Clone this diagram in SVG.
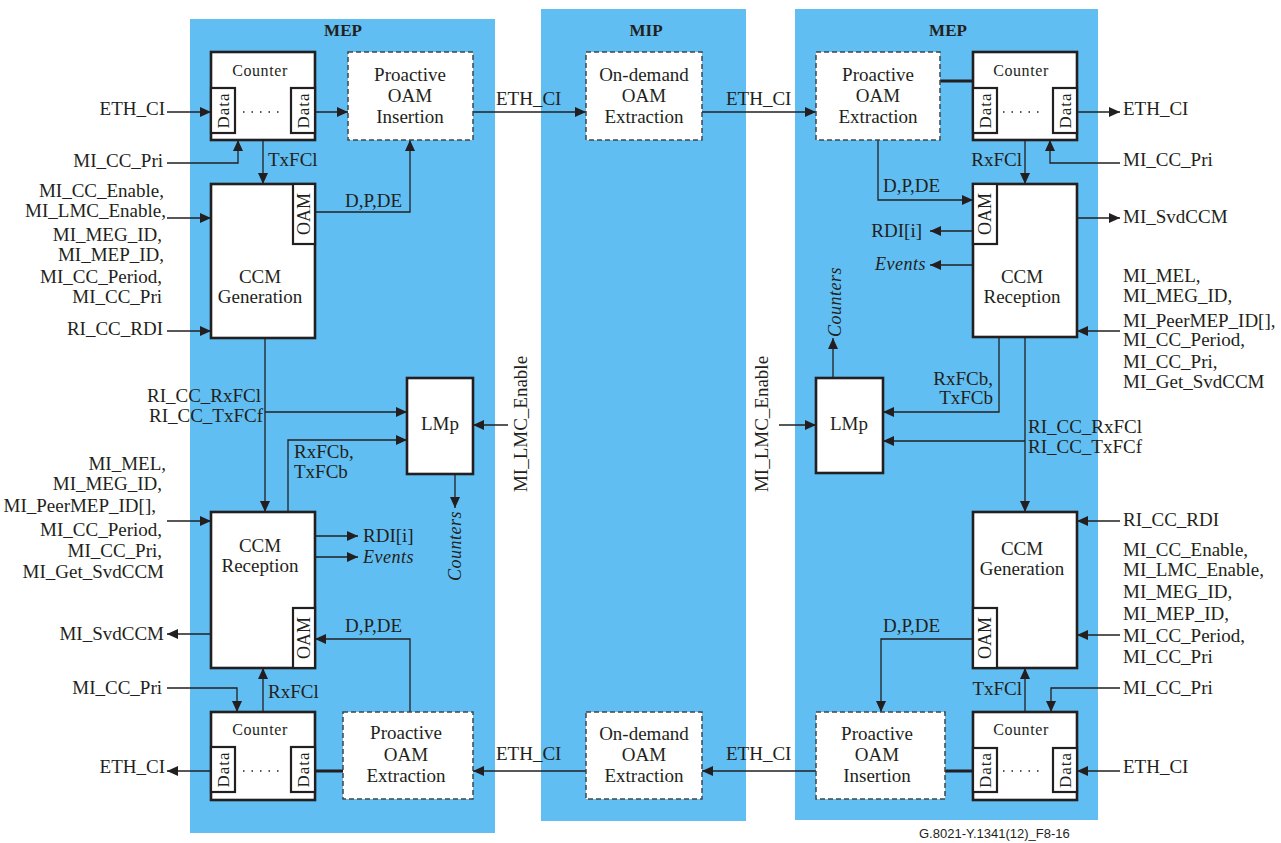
<svg xmlns="http://www.w3.org/2000/svg" width="1281" height="843" viewBox="0 0 1281 843">
<style>
text{font-family:"Liberation Serif","Times New Roman",serif;font-size:19px;fill:#231f20}
.t{font-weight:bold;font-size:17px}
.c{text-anchor:middle}
.e{text-anchor:end}
.it{font-style:italic;letter-spacing:0.5px;font-size:18px}
.cnt{font-size:16px;letter-spacing:0.6px}
.dt{font-size:17px;letter-spacing:1px}
.oam{font-size:18px}
.ft{font-family:"Liberation Sans",Arial,sans-serif;font-size:13px}
.panel{fill:#60bef2}
.box{fill:#fff;stroke:#231f20;stroke-width:2.6}
.sub{fill:#fff;stroke:#231f20;stroke-width:2.2}
.dash{fill:#fff;stroke:#444;stroke-width:1.5;stroke-dasharray:5,3}
.ar{fill:none;stroke:#231f20;stroke-width:1.3;marker-end:url(#a)}
.thk{fill:none;stroke:#231f20;stroke-width:3}
.dots{stroke:#231f20;stroke-width:1.5;stroke-dasharray:1.5,7}
</style>
<defs>
<marker id="a" markerUnits="userSpaceOnUse" markerWidth="12" markerHeight="10" refX="11" refY="5" orient="auto">
<path d="M0,0 L11,5 L0,10 z" fill="#231f20"/>
</marker>
</defs>
<rect width="1281" height="843" fill="#fff"/>
<g id="panels">
<rect class="panel" x="190" y="19" width="305" height="814"/>
<rect class="panel" x="541" y="9" width="205" height="812"/>
<rect class="panel" x="795" y="9" width="303" height="811"/>
<text class="t c" x="343" y="36">MEP</text>
<text class="t c" x="646" y="36">MIP</text>
<text class="t c" x="948" y="36">MEP</text>
</g>

<g id="connectors">
<path class="ar" d="M167,112 H211"/>
<path class="ar" d="M315,112 H348"/>
<path class="ar" d="M167,163 H238 V140"/>
<path class="ar" d="M263,140 V184"/>
<path class="ar" d="M167,218 H211"/>
<path class="ar" d="M315,212 H410 V140"/>
<path class="ar" d="M167,331 H211"/>
<path class="ar" d="M265,338 V512"/>
<path class="ar" d="M265,412 H407"/>
<path class="ar" d="M288,512 V440 H407"/>
<path class="ar" d="M455,474 V508"/>
<path class="ar" d="M508,425 H473"/>
<path class="ar" d="M167,521 H211"/>
<path class="ar" d="M315,536 H358"/>
<path class="ar" d="M315,557 H358"/>
<path class="ar" d="M213,634 H167"/>
<path class="ar" d="M410,712 V639 H315"/>
<path class="ar" d="M167,688 H237 V712"/>
<path class="ar" d="M263,712 V668"/>
<path class="ar" d="M211,771 H167"/>
<path class="thk" d="M315,771 H343"/>
<path class="ar" d="M586,771 H473"/>
<path class="ar" d="M473,112 H586"/>
<path class="ar" d="M702,112 H816"/>
<path class="ar" d="M816,771 H702"/>
<path class="thk" d="M940,81 H973"/>
<path class="ar" d="M1077,112 H1120"/>
<path class="ar" d="M1120,163 H1050 V140"/>
<path class="ar" d="M1025,140 V184"/>
<path class="ar" d="M878,140 V200 H973"/>
<path class="ar" d="M973,231 H930"/>
<path class="ar" d="M973,265 H930"/>
<path class="ar" d="M1077,218 H1120"/>
<path class="ar" d="M1120,331 H1077"/>
<path class="ar" d="M999,337 V412 H883"/>
<path class="ar" d="M1025,337 V512"/>
<path class="ar" d="M1025,441 H883"/>
<path class="ar" d="M833,378 V338"/>
<path class="ar" d="M779,425 H816"/>
<path class="ar" d="M1120,521 H1077"/>
<path class="ar" d="M1120,635 H1077"/>
<path class="ar" d="M973,639 H881 V712"/>
<path class="ar" d="M1025,712 V668"/>
<path class="ar" d="M1120,688 H1051 V712"/>
<path class="ar" d="M1120,771 H1077"/>
<path class="thk" d="M973,771 H945"/>
</g>

<g id="labels">
<text class="e" x="165" y="115">ETH_CI</text>
<text class="e" x="163" y="167">MI_CC_Pri</text>
<text x="268" y="166">TxFCl</text>
<text class="e" x="164" y="197">MI_CC_Enable,</text>
<text class="e" x="166" y="217">MI_LMC_Enable,</text>
<text class="e" x="162" y="241">MI_MEG_ID,</text>
<text class="e" x="164" y="261">MI_MEP_ID,</text>
<text class="e" x="162" y="283">MI_CC_Period,</text>
<text class="e" x="162" y="303">MI_CC_Pri</text>
<text class="e" x="163" y="335">RI_CC_RDI</text>
<text x="345" y="207">D,P,DE</text>
<text class="e" x="261" y="402">RI_CC_RxFCl</text>
<text class="e" x="263" y="422">RI_CC_TxFCf</text>
<text x="294" y="458">RxFCb,</text>
<text x="294" y="478">TxFCb</text>
<text class="c" transform="translate(527,424) rotate(-90)">MI_LMC_Enable</text>
<text class="c it" transform="translate(461,546) rotate(-90)">Counters</text>
<text class="e" x="166" y="470">MI_MEL,</text>
<text class="e" x="162" y="490">MI_MEG_ID,</text>
<text class="e" x="156" y="512">MI_PeerMEP_ID[],</text>
<text class="e" x="162" y="536">MI_CC_Period,</text>
<text class="e" x="162" y="557">MI_CC_Pri,</text>
<text class="e" x="164" y="578">MI_Get_SvdCCM</text>
<text x="363" y="542">RDI[i]</text>
<text class="it" x="363" y="563">Events</text>
<text class="e" x="164" y="640">MI_SvdCCM</text>
<text x="345" y="632">D,P,DE</text>
<text class="e" x="162" y="694">MI_CC_Pri</text>
<text x="268" y="698">RxFCl</text>
<text class="e" x="165" y="773">ETH_CI</text>
<text x="496" y="105">ETH_CI</text>
<text x="726" y="105">ETH_CI</text>
<text x="496" y="760">ETH_CI</text>
<text x="726" y="760">ETH_CI</text>
<text x="1123" y="115">ETH_CI</text>
<text x="1123" y="166">MI_CC_Pri</text>
<text class="e" x="1022" y="166">RxFCl</text>
<text x="883" y="192">D,P,DE</text>
<text class="e" x="922" y="237">RDI[i]</text>
<text class="e it" x="926" y="270">Events</text>
<text x="1123" y="223">MI_SvdCCM</text>
<text x="1123" y="282">MI_MEL,</text>
<text x="1123" y="302">MI_MEG_ID,</text>
<text x="1123" y="327">MI_PeerMEP_ID[],</text>
<text x="1123" y="346">MI_CC_Period,</text>
<text x="1123" y="368">MI_CC_Pri,</text>
<text x="1123" y="388">MI_Get_SvdCCM</text>
<text class="e" x="993" y="385">RxFCb,</text>
<text class="e" x="993" y="404">TxFCb</text>
<text x="1028" y="433">RI_CC_RxFCl</text>
<text x="1028" y="453">RI_CC_TxFCf</text>
<text class="c it" transform="translate(841,302) rotate(-90)">Counters</text>
<text class="c" transform="translate(768,424) rotate(-90)">MI_LMC_Enable</text>
<text x="1123" y="526">RI_CC_RDI</text>
<text x="1123" y="556">MI_CC_Enable,</text>
<text x="1123" y="576">MI_LMC_Enable,</text>
<text x="1123" y="598">MI_MEG_ID,</text>
<text x="1123" y="620">MI_MEP_ID,</text>
<text x="1123" y="642">MI_CC_Period,</text>
<text x="1123" y="663">MI_CC_Pri</text>
<text x="883" y="632">D,P,DE</text>
<text class="e" x="1022" y="695">TxFCl</text>
<text x="1123" y="694">MI_CC_Pri</text>
<text x="1123" y="773">ETH_CI</text>
<text class="ft" x="919" y="838">G.8021-Y.1341(12)_F8-16</text>
</g>

<g id="l-counter-tx">
<rect class="box" x="211" y="52" width="104" height="88"/>
<text class="c cnt" x="260" y="76">Counter</text>
<rect class="sub" x="211" y="88" width="24" height="45"/>
<text class="c dt" transform="translate(229,110.5) rotate(-90)">Data</text>
<rect class="sub" x="291" y="88" width="24" height="45"/>
<text class="c dt" transform="translate(309,110.5) rotate(-90)">Data</text>
<line class="dots" x1="243" y1="112" x2="282" y2="112"/>
</g>
<g id="l-pro-insert">
<rect class="dash" x="348" y="52" width="125" height="88"/>
<text class="c" x="410" y="81">Proactive</text>
<text class="c" x="410" y="102">OAM</text>
<text class="c" x="410" y="123">Insertion</text>
</g>
<g id="l-ccm-gen">
<rect class="box" x="211" y="184" width="104" height="154"/>
<rect class="sub" x="293" y="184" width="22" height="60"/>
<text class="c oam" transform="translate(310,214) rotate(-90)">OAM</text>
<text class="c" x="260" y="283">CCM</text>
<text class="c" x="260" y="303">Generation</text>
</g>
<g id="l-lmp">
<rect class="box" x="407" y="378" width="66" height="96"/>
<text class="c" x="440" y="430">LMp</text>
</g>
<g id="l-ccm-rec">
<rect class="box" x="211" y="512" width="104" height="156"/>
<rect class="sub" x="293" y="608" width="22" height="60"/>
<text class="c oam" transform="translate(310,638) rotate(-90)">OAM</text>
<text class="c" x="260" y="552">CCM</text>
<text class="c" x="260" y="572">Reception</text>
</g>
<g id="l-counter-rx">
<rect class="box" x="211" y="712" width="104" height="88"/>
<text class="c cnt" x="260" y="735">Counter</text>
<rect class="sub" x="211" y="747" width="24" height="45"/>
<text class="c dt" transform="translate(229,769.5) rotate(-90)">Data</text>
<rect class="sub" x="291" y="747" width="24" height="45"/>
<text class="c dt" transform="translate(309,769.5) rotate(-90)">Data</text>
<line class="dots" x1="243" y1="771" x2="282" y2="771"/>
</g>
<g id="l-pro-extract">
<rect class="dash" x="343" y="712" width="130" height="87"/>
<text class="c" x="406" y="739">Proactive</text>
<text class="c" x="406" y="761">OAM</text>
<text class="c" x="406" y="782">Extraction</text>
</g>

<g id="mip-od-top">
<rect class="dash" x="586" y="52" width="116" height="88"/>
<text class="c" x="644" y="81">On-demand</text>
<text class="c" x="644" y="102">OAM</text>
<text class="c" x="644" y="123">Extraction</text>
</g>
<g id="mip-od-bottom">
<rect class="dash" x="586" y="712" width="116" height="87"/>
<text class="c" x="644" y="740">On-demand</text>
<text class="c" x="644" y="761">OAM</text>
<text class="c" x="644" y="782">Extraction</text>
</g>

<g id="r-pro-extract">
<rect class="dash" x="816" y="52" width="124" height="88"/>
<text class="c" x="878" y="81">Proactive</text>
<text class="c" x="878" y="102">OAM</text>
<text class="c" x="878" y="123">Extraction</text>
</g>
<g id="r-counter-rx">
<rect class="box" x="973" y="52" width="104" height="88"/>
<text class="c cnt" x="1021" y="76">Counter</text>
<rect class="sub" x="973" y="88" width="24" height="45"/>
<text class="c dt" transform="translate(991,110.5) rotate(-90)">Data</text>
<rect class="sub" x="1053" y="88" width="24" height="45"/>
<text class="c dt" transform="translate(1071,110.5) rotate(-90)">Data</text>
<line class="dots" x1="1003" y1="112" x2="1042" y2="112"/>
</g>
<g id="r-ccm-rec">
<rect class="box" x="973" y="184" width="104" height="153"/>
<rect class="sub" x="973" y="184" width="24" height="60"/>
<text class="c oam" transform="translate(991,214) rotate(-90)">OAM</text>
<text class="c" x="1022" y="283">CCM</text>
<text class="c" x="1022" y="303">Reception</text>
</g>
<g id="r-lmp">
<rect class="box" x="816" y="378" width="67" height="95"/>
<text class="c" x="849" y="430">LMp</text>
</g>
<g id="r-ccm-gen">
<rect class="box" x="973" y="512" width="104" height="156"/>
<rect class="sub" x="973" y="608" width="24" height="60"/>
<text class="c oam" transform="translate(991,638) rotate(-90)">OAM</text>
<text class="c" x="1022" y="555">CCM</text>
<text class="c" x="1022" y="575">Generation</text>
</g>
<g id="r-counter-tx">
<rect class="box" x="973" y="712" width="104" height="88"/>
<text class="c cnt" x="1021" y="735">Counter</text>
<rect class="sub" x="973" y="748" width="24" height="44"/>
<text class="c dt" transform="translate(991,770) rotate(-90)">Data</text>
<rect class="sub" x="1053" y="748" width="24" height="44"/>
<text class="c dt" transform="translate(1071,770) rotate(-90)">Data</text>
<line class="dots" x1="1003" y1="771" x2="1042" y2="771"/>
</g>
<g id="r-pro-insert">
<rect class="dash" x="816" y="712" width="129" height="87"/>
<text class="c" x="877" y="740">Proactive</text>
<text class="c" x="877" y="761">OAM</text>
<text class="c" x="877" y="782">Insertion</text>
</g>
</svg>
